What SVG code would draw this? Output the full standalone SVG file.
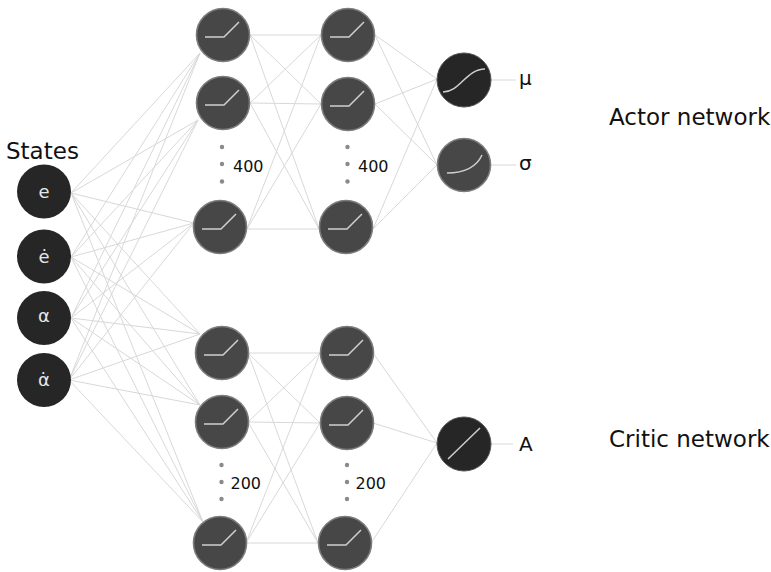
<svg xmlns="http://www.w3.org/2000/svg" width="771" height="572" viewBox="0 0 771 572">
<defs>
<style>
.t{font-family:"DejaVu Sans","Liberation Sans",sans-serif;fill:#111}
.big{font-size:23px}
.num{font-size:16px}
.out{font-size:20px}
.inl{font-family:"DejaVu Sans","Liberation Sans",sans-serif;font-size:18px;fill:#e6e6e6;text-anchor:middle}
.in{fill:#262626}
.hid{fill:#474747;stroke:#7c7c7c;stroke-width:1.6}
.dark{fill:#262626;stroke:#555;stroke-width:1}
.icon{fill:none;stroke:#cfcfcf;stroke-width:1.5}
.dot{fill:#8a8a8a}
#edges line{stroke:#d8d8d8;stroke-width:1}
</style>
<filter id="soft" x="-20%" y="-20%" width="140%" height="140%"><feGaussianBlur stdDeviation="0.7"/></filter>
<g id="relu"><circle r="26.5" class="hid" filter="url(#soft)"/><path class="icon" d="M-18 2H1L16-13"/></g>
</defs>
<rect width="771" height="572" fill="#fff"/>
<g id="edges">
<line x1="71" y1="193" x2="200" y2="53"/><line x1="71" y1="193" x2="198" y2="120"/><line x1="71" y1="193" x2="194" y2="223"/><line x1="71" y1="193" x2="200" y2="334"/><line x1="71" y1="193" x2="200" y2="405"/><line x1="71" y1="193" x2="203" y2="522"/>
<line x1="71" y1="257" x2="200" y2="53"/><line x1="71" y1="257" x2="198" y2="120"/><line x1="71" y1="257" x2="194" y2="223"/><line x1="71" y1="257" x2="200" y2="334"/><line x1="71" y1="257" x2="200" y2="405"/><line x1="71" y1="257" x2="203" y2="522"/>
<line x1="71" y1="318" x2="200" y2="53"/><line x1="71" y1="318" x2="198" y2="120"/><line x1="71" y1="318" x2="194" y2="223"/><line x1="71" y1="318" x2="200" y2="334"/><line x1="71" y1="318" x2="200" y2="405"/><line x1="71" y1="318" x2="203" y2="522"/>
<line x1="69" y1="380" x2="200" y2="53"/><line x1="69" y1="380" x2="198" y2="120"/><line x1="69" y1="380" x2="194" y2="223"/><line x1="69" y1="380" x2="200" y2="334"/><line x1="69" y1="380" x2="200" y2="405"/><line x1="69" y1="380" x2="203" y2="522"/>
<line x1="250" y1="35" x2="321" y2="35"/><line x1="250" y1="35" x2="321" y2="104"/><line x1="250" y1="35" x2="319" y2="229"/>
<line x1="250" y1="103" x2="321" y2="35"/><line x1="250" y1="103" x2="321" y2="104"/><line x1="250" y1="103" x2="319" y2="229"/>
<line x1="247" y1="229" x2="321" y2="35"/><line x1="247" y1="229" x2="321" y2="104"/><line x1="247" y1="229" x2="319" y2="229"/>
<line x1="375" y1="35" x2="437" y2="79"/><line x1="375" y1="35" x2="437" y2="165"/>
<line x1="375" y1="104" x2="437" y2="79"/><line x1="375" y1="104" x2="437" y2="165"/>
<line x1="373" y1="229" x2="437" y2="79"/><line x1="373" y1="229" x2="437" y2="165"/>
<line x1="248" y1="353" x2="320" y2="353"/><line x1="248" y1="353" x2="320" y2="423"/><line x1="248" y1="353" x2="318" y2="543"/>
<line x1="248" y1="422" x2="320" y2="353"/><line x1="248" y1="422" x2="320" y2="423"/><line x1="248" y1="422" x2="318" y2="543"/>
<line x1="246" y1="543" x2="320" y2="353"/><line x1="246" y1="543" x2="320" y2="423"/><line x1="246" y1="543" x2="318" y2="543"/>
<line x1="373" y1="353" x2="437" y2="443"/><line x1="373" y1="423" x2="437" y2="443"/><line x1="371" y1="543" x2="437" y2="443"/>
<line x1="491" y1="80" x2="516" y2="80"/><line x1="491" y1="165" x2="516" y2="165"/><line x1="491" y1="444" x2="513" y2="444"/>
</g>
<text class="t big" x="6" y="159">States</text>
<g id="in-e"><circle cx="44" cy="191.5" r="27" class="in"/><text class="inl" x="44" y="198">e</text></g>
<g id="in-edot"><circle cx="44" cy="256.5" r="27" class="in"/><text class="inl" x="44" y="263">ė</text></g>
<g id="in-alpha"><circle cx="44" cy="318" r="27" class="in"/><text class="inl" x="44" y="322">α</text></g>
<g id="in-alphadot"><circle cx="44" cy="380" r="27" class="in"/><text class="inl" x="44" y="386">α̇</text></g>
<g id="a1-1"><use href="#relu" x="223" y="35"/></g>
<g id="a1-2"><use href="#relu" x="223" y="103"/></g>
<g id="a1-3"><use href="#relu" x="220" y="227"/></g>
<g id="a2-1"><use href="#relu" x="348" y="35"/></g>
<g id="a2-2"><use href="#relu" x="348" y="104"/></g>
<g id="a2-3"><use href="#relu" x="346" y="227"/></g>
<g id="a1-more"><circle class="dot" cx="222" cy="147" r="2.2"/><circle class="dot" cx="222" cy="164" r="2.2"/><circle class="dot" cx="222" cy="181.5" r="2.2"/><text class="t num" x="233" y="172">400</text></g>
<g id="a2-more"><circle class="dot" cx="347.5" cy="147" r="2.2"/><circle class="dot" cx="347.5" cy="164" r="2.2"/><circle class="dot" cx="347.5" cy="181.5" r="2.2"/><text class="t num" x="358" y="172">400</text></g>
<g id="c1-1"><use href="#relu" x="222" y="353"/></g>
<g id="c1-2"><use href="#relu" x="222" y="422"/></g>
<g id="c1-3"><use href="#relu" x="220" y="543"/></g>
<g id="c2-1"><use href="#relu" x="347" y="353"/></g>
<g id="c2-2"><use href="#relu" x="347" y="423"/></g>
<g id="c2-3"><use href="#relu" x="345" y="543"/></g>
<g id="c1-more"><circle class="dot" cx="221.5" cy="465" r="2.2"/><circle class="dot" cx="221.5" cy="482" r="2.2"/><circle class="dot" cx="221.5" cy="499" r="2.2"/><text class="t num" x="230.5" y="489">200</text></g>
<g id="c2-more"><circle class="dot" cx="347" cy="465" r="2.2"/><circle class="dot" cx="347" cy="482" r="2.2"/><circle class="dot" cx="347" cy="499" r="2.2"/><text class="t num" x="355.5" y="489">200</text></g>
<g id="out-mu"><circle cx="464" cy="80" r="27" class="dark" filter="url(#soft)"/><path class="icon" d="M443 92C460 92 466 69 485 69"/><text class="t out" x="519" y="85">μ</text></g>
<g id="out-sigma"><circle cx="464" cy="165" r="26.5" class="hid" filter="url(#soft)"/><path class="icon" d="M447 173C463 173 476 168 482 155"/><text class="t out" x="519" y="170">σ</text></g>
<g id="out-A"><circle cx="464" cy="444" r="27" class="dark" filter="url(#soft)"/><path class="icon" d="M448 459L480 428"/><text class="t out" x="519" y="451">A</text></g>
<text class="t big" x="609" y="125">Actor network</text>
<text class="t big" x="609" y="447">Critic network</text>
</svg>
